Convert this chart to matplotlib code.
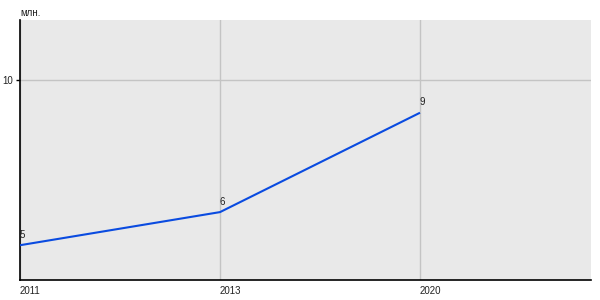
import matplotlib
matplotlib.use("Agg")
import matplotlib.pyplot as plt

years = ["2011", "2013", "2020"]
values = [5, 6, 9]
y_ticks = [10]

plt.rcParams["font.family"] = ["Liberation Sans", "DejaVu Sans"]

fig = plt.figure(figsize=(6, 3), dpi=100)
ax = fig.add_axes([20 / 600, 20 / 300, 571 / 600, 260 / 300])
ax.set_facecolor("#e9e9e9")

x = list(range(len(years)))
ax.plot(x, values, color="#0a4be0", linewidth=1.5, solid_capstyle="butt", zorder=3)
for xi, v in zip(x, values):
    ax.annotate(str(v), (xi, v), xytext=(0, 4), textcoords="offset points",
                ha="left", va="bottom", fontsize=7, color="#222222")

ax.set_xlim(0, 2.855)
ax.set_ylim(3.95, 11.8)
ax.set_xticks(x)
ax.set_xticklabels(years, ha="left", fontsize=7, color="#222222")
ax.set_yticks(y_ticks)
ax.set_yticklabels([str(t) for t in y_ticks], fontsize=7, color="#222222")
ax.tick_params(axis="x", length=0, pad=4)
ax.tick_params(axis="y", length=3, width=1, pad=2)
ax.grid(True, color="#c4c4c4", linewidth=1)
ax.set_axisbelow(True)

for s in ["top", "right"]:
    ax.spines[s].set_visible(False)
for s in ["left", "bottom"]:
    ax.spines[s].set_color("black")
    ax.spines[s].set_linewidth(1.2)

fig.text(20 / 600, 1 - 13 / 300, "млн.", fontsize=7, ha="left", va="center", color="#222222")

fig.savefig("out.png", dpi=100)
